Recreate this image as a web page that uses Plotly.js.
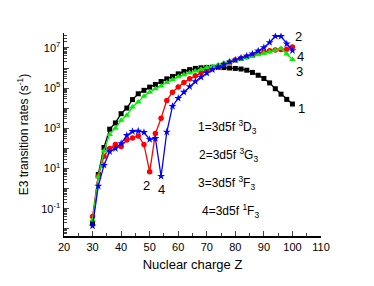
<!DOCTYPE html>
<html><head><meta charset="utf-8">
<script src="https://cdn.plot.ly/plotly-3.0.1.min.js"></script>
<style>html,body{margin:0;padding:0;background:#fff}#chart{width:374px;height:286px}</style>
</head><body><div id="chart"></div>
<script>
// Nuclear charge Z
const Z = [30,32,34,36,38,40,42,44,46,48,50,52,54,56,58,60,62,64,66,68,70,72,74,76,78,80,82,84,86,88,90,92,94,96,98,100];
// log10 of E3 transition rates (s^-1)
const logRate1 = [-1.70,0.71,2.05,2.96,3.27,3.73,4.01,4.43,4.72,4.89,5.05,5.18,5.33,5.46,5.58,5.71,5.83,5.92,5.98,6.01,6.03,6.04,6.04,6.02,6.00,5.98,5.95,5.89,5.78,5.64,5.48,5.26,4.97,4.70,4.44,4.21];
const logRate2 = [-1.38,0.62,1.62,2.00,2.20,2.10,2.42,2.52,2.62,2.20,0.84,2.74,3.50,4.39,4.80,5.05,5.28,5.46,5.62,5.76,5.88,5.99,6.10,6.20,6.30,6.40,6.48,6.56,6.64,6.73,6.80,6.86,6.90,6.92,6.93,7.05];
const logRate3 = [-1.55,0.60,1.88,2.70,3.00,3.40,3.65,4.06,4.31,4.60,4.80,4.97,5.10,5.28,5.42,5.56,5.66,5.76,5.85,5.94,6.02,6.08,6.15,6.23,6.30,6.36,6.44,6.51,6.58,6.66,6.73,6.80,6.88,6.97,6.70,6.42];
const logRate4 = [-1.85,0.13,1.17,1.85,2.00,2.25,2.65,2.85,2.87,2.80,2.45,2.50,0.62,2.82,4.10,4.50,4.80,5.08,5.33,5.55,5.75,5.92,6.06,6.18,6.30,6.40,6.50,6.60,6.70,6.85,7.02,7.27,7.58,7.57,7.20,6.87];
const seriesNames = ['1=3d5f ³D₃','2=3d5f ³G₃','3=3d5f ³F₃','4=3d5f ¹F₃'];
const xTickVals = [20,30,40,50,60,70,80,90,100,110];
const yLabelExp = [-1,1,3,5,7];

const pw = v => v.map(e => Math.pow(10, e));
const font = 'Liberation Sans, Arial, sans-serif';
function tr(y, color, sym, size, name){
  return {x: Z, y: pw(y), type:'scatter', mode:'lines+markers', name,
    line:{color, width:1.3}, marker:{color, symbol:sym, size, line:{width:0}}};
}
const data = [
  tr(logRate1,'#000000','square',5,seriesNames[0]),
  tr(logRate2,'#ff0000','circle',5.5,seriesNames[1]),
  tr(logRate3,'#00f000','triangle-up',6,seriesNames[2]),
  tr(logRate4,'#0000ff','star',6,seriesNames[3])
];
const majY = [], majYText = [], minY = [];
for (let e=-3; e<=8; e++){
  majY.push(Math.pow(10,e));
  majYText.push(yLabelExp.includes(e) ? '10<sup>'+e+'</sup>' : '');
  for (let k=2;k<=9;k++) minY.push(k*Math.pow(10,e));
}
const ann = (x,y,text,xa,size) => ({x, y, xref:'x', yref:'y', text, showarrow:false, xanchor:xa||'left', yanchor:'middle', font:{family:font,size:size||12,color:'#000'}});
const layout = {
  width:374, height:286, margin:{l:64,r:53,t:33,b:50},
  paper_bgcolor:'#fff', plot_bgcolor:'#fff', showlegend:false,
  font:{family:font, color:'#000'},
  xaxis:{range:[20,110], tickmode:'array', tickvals:xTickVals, ticks:'inside', ticklen:5, tickwidth:1,
    showline:true, linecolor:'#000', linewidth:1.5, showgrid:false, zeroline:false, mirror:false,
    tickfont:{family:font,size:11}, minor:{dtick:5, ticks:'inside', ticklen:3, tickwidth:1, tick0:20},
    title:{text:'Nuclear charge Z', font:{family:font,size:13}, standoff:8}},
  yaxis:{type:'log', range:[-2.35,7.74], tickmode:'array', tickvals:majY, ticktext:majYText,
    ticks:'inside', ticklen:5, tickwidth:1, showline:true, linecolor:'#000', linewidth:1.5,
    showgrid:false, zeroline:false, tickfont:{family:font,size:11},
    minor:{tickmode:'array', tickvals:minY, ticks:'inside', ticklen:3, tickwidth:1},
    title:{text:'E3 transition rates (s<sup>-1</sup>)', font:{family:font,size:12}, standoff:10}},
  annotations:[
    ann(66.1,3.05,'1=3d5f <sup>3</sup>D<sub>3</sub>'),
    ann(66.5,1.67,'2=3d5f <sup>3</sup>G<sub>3</sub>'),
    ann(66.2,0.28,'3=3d5f <sup>3</sup>F<sub>3</sub>'),
    ann(67.5,-1.1,'4=3d5f <sup>1</sup>F<sub>3</sub>'),
    ann(102.2,7.56,'2','center',13),
    ann(102.9,6.57,'4','center',13),
    ann(102.6,5.83,'3','center',13),
    ann(103.2,4.0,'1','center',13),
    ann(49,0.18,'2','center',13),
    ann(54.2,-0.06,'4','center',13)
  ]
};
Plotly.newPlot('chart', data, layout, {staticPlot:true, displayModeBar:false});
</script></body></html>
